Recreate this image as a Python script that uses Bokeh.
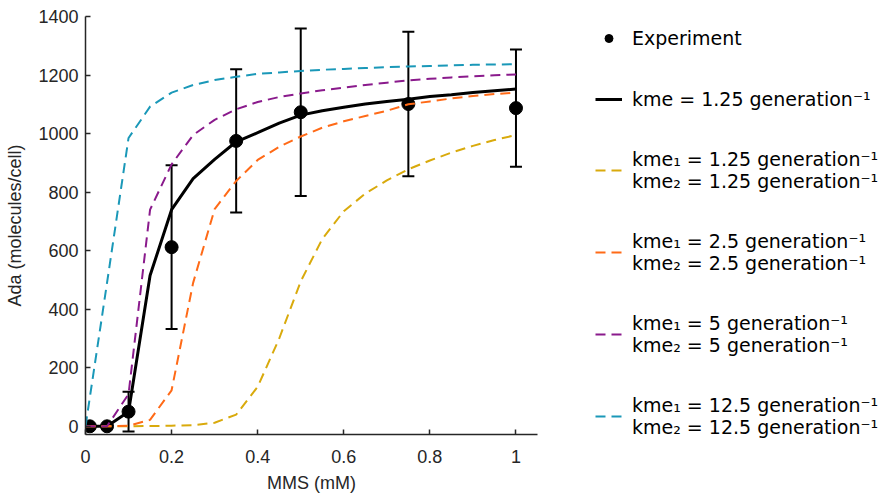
from bokeh.plotting import figure
from bokeh.models import (Range1d, FixedTicker, NumeralTickFormatter, ColumnDataSource,
                          Whisker, TeeHead, Legend, LegendItem)
from bokeh.embed import file_html
from bokeh.resources import INLINE

# Experimental data
mms_exp = [0.01, 0.05, 0.1, 0.2, 0.35, 0.5, 0.75, 1.0]
ada_exp = [0, 0, 50, 612, 975, 1073, 1101, 1087]
ada_err = [4, 4, 68, 280, 245, 286, 247, 200]

# Model curves
mms_model = [0, 0.05, 0.1, 0.15, 0.2, 0.25, 0.3, 0.35, 0.4, 0.45, 0.5,
             0.55, 0.6, 0.65, 0.7, 0.75, 0.8, 0.85, 0.9, 0.95, 1.0]
ada_kme = [0, 0, 50, 515, 740, 846, 912, 972, 1003, 1036, 1063,
           1078, 1090, 1101, 1110, 1117, 1127, 1133, 1140, 1146, 1152]
ada_k125 = [0, 0, 0, 1, 2, 4, 12, 40, 135, 300, 495,
            640, 735, 795, 840, 878, 908, 935, 958, 978, 995]
ada_k25 = [0, 0, 2, 22, 123, 490, 742, 838, 910, 955, 990,
           1020, 1042, 1060, 1078, 1100, 1110, 1120, 1128, 1135, 1140]
ada_k5 = [0, 0, 110, 740, 895, 995, 1047, 1083, 1108, 1125, 1137,
          1148, 1157, 1166, 1174, 1182, 1187, 1192, 1196, 1199, 1202]
ada_k125b = [0, 490, 985, 1092, 1140, 1166, 1183, 1194, 1204, 1209, 1214,
             1218, 1221, 1224, 1227, 1229, 1231, 1233, 1235, 1236, 1237]

x_ticks = [0, 0.2, 0.4, 0.6, 0.8, 1.0]
y_ticks = [0, 200, 400, 600, 800, 1000, 1200, 1400]

labels = [
    "Experiment",
    "kme = 1.25 generation\u207b\u00b9",
    "kme\u2081 = 1.25 generation\u207b\u00b9\nkme\u2082 = 1.25 generation\u207b\u00b9",
    "kme\u2081 = 2.5 generation\u207b\u00b9\nkme\u2082 = 2.5 generation\u207b\u00b9",
    "kme\u2081 = 5 generation\u207b\u00b9\nkme\u2082 = 5 generation\u207b\u00b9",
    "kme\u2081 = 12.5 generation\u207b\u00b9\nkme\u2082 = 12.5 generation\u207b\u00b9",
]
colors = ["#D9AA0C", "#FF6A17", "#8A1A8C", "#1A98B8"]

p = figure(x_range=Range1d(0, 1.05), y_range=Range1d(-28, 1400),
           frame_width=452, frame_height=418,
           min_border_left=85, min_border_top=16, min_border_bottom=54, min_border_right=5,
           output_backend="svg", toolbar_location=None)
p.outline_line_color = None
p.xgrid.visible = False
p.ygrid.visible = False

for ax in (p.xaxis[0], p.yaxis[0]):
    ax.axis_line_color = "#262626"
    ax.axis_line_width = 1.5
    ax.major_tick_line_color = "#262626"
    ax.major_tick_line_width = 1.5
    ax.major_tick_in = 5
    ax.major_tick_out = 0
    ax.minor_tick_line_color = None
    ax.major_label_text_font = "Liberation Sans"
    ax.major_label_text_font_size = "18px"
    ax.major_label_text_color = "#262626"
    ax.axis_label_text_font = "Liberation Sans"
    ax.axis_label_text_font_size = "18px"
    ax.axis_label_text_font_style = "normal"
    ax.axis_label_text_color = "#262626"

p.xaxis.ticker = FixedTicker(ticks=x_ticks)
p.xaxis.formatter = NumeralTickFormatter(format="0.[0]")
p.yaxis.ticker = FixedTicker(ticks=y_ticks)
p.xaxis.axis_label = "MMS (mM)"
p.yaxis.axis_label = "Ada (molecules/cell)"
p.xaxis.major_label_standoff = 15
p.xaxis.axis_label_standoff = 7
p.yaxis.major_label_standoff = 7
p.yaxis.axis_label_standoff = 10

src = ColumnDataSource(dict(x=mms_exp, y=ada_exp,
                            upper=[a + e for a, e in zip(ada_exp, ada_err)],
                            lower=[a - e for a, e in zip(ada_exp, ada_err)]))
wh = Whisker(source=src, base="x", upper="upper", lower="lower",
             line_color="black", line_width=2,
             upper_head=TeeHead(size=12, line_color="black", line_width=2),
             lower_head=TeeHead(size=12, line_color="black", line_width=2))
p.add_layout(wh)
r_exp = p.scatter("x", "y", source=src, size=13, color="black")

r_kme = p.line(mms_model, ada_kme, line_color="black", line_width=3)
dashed = []
for ys, c in zip([ada_k125, ada_k25, ada_k5, ada_k125b], colors):
    dashed.append(p.line(mms_model, ys, line_color=c, line_width=2, line_dash="10 6"))

items = [LegendItem(label=labels[0], renderers=[r_exp]),
         LegendItem(label=labels[1], renderers=[r_kme])]
for lab, r in zip(labels[2:], dashed):
    items.append(LegendItem(label=lab, renderers=[r]))

legend = Legend(items=items, location=(58, -4), border_line_color=None,
                background_fill_alpha=0, label_text_font="DejaVu Sans",
                label_text_font_size="19px", label_text_color="black",
                label_height=23,
                glyph_width=27, glyph_height=20, label_standoff=10,
                spacing=38, padding=0, margin=58)
p.add_layout(legend, "right")

open("out.html", "w").write(file_html(p, INLINE))
